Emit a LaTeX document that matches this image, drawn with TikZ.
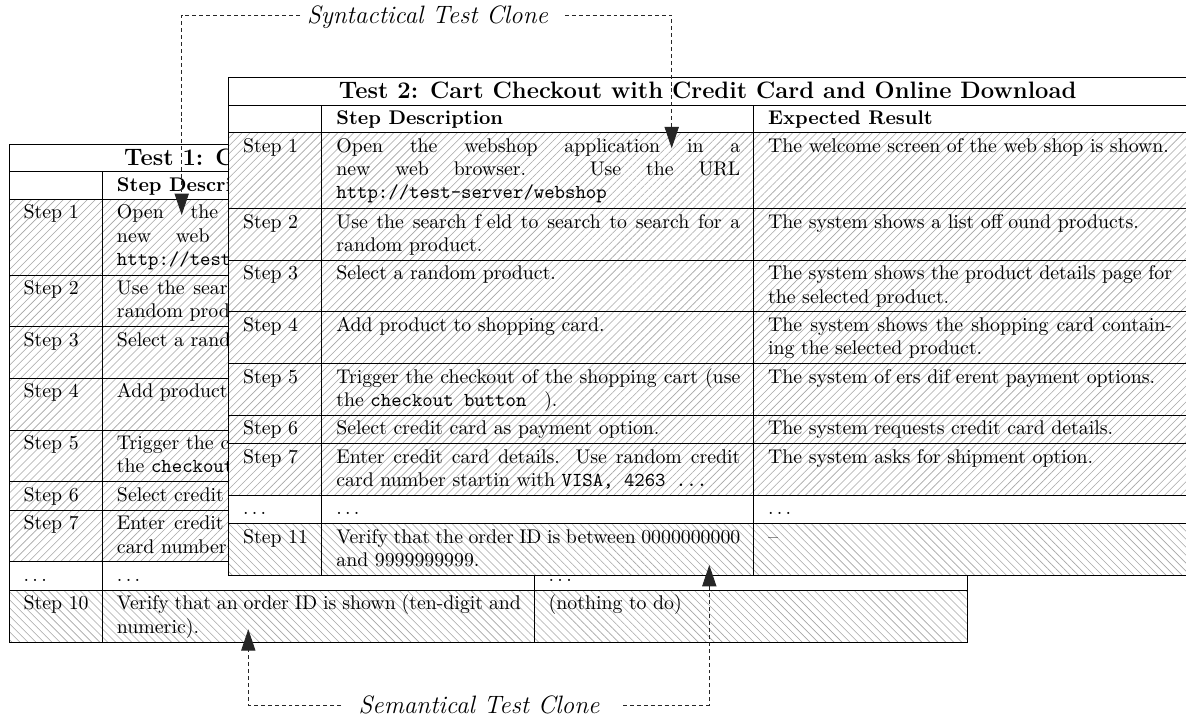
\documentclass[tikz,border=0pt]{standalone}
\usetikzlibrary{patterns.meta,arrows.meta}

\newcommand\cellfont{\fontsize{10}{11.77}\selectfont}
\newcommand\gapkern{\kern3pt}
\newcommand\hid[1]{\phantom{#1}}
\newcommand\sentencegap{\spacefactor3000{}}

% First column and ellipsis row of a test table
\newcommand\steplabels[1]{%
  \node[steplabel] (#1s1a) at (14,74.5) {Step 1};
  \node[steplabel] (#1s2a) at (14,150.3) {Step 2};
  \node[steplabel] (#1s3a) at (14,202) {Step 3};
  \node[steplabel] (#1s4a) at (14,253.7) {Step 4};
  \node[steplabel] (#1s5a) at (14,305.4) {Step 5};
  \node[steplabel] (#1s6a) at (14,357.1) {Step 6};
  \node[steplabel] (#1s7a) at (14,385.5) {Step 7};
  \node[steplabel] (#1dta) at (14,437.2) {$\ldots$};
  \node[steplabel] (#1dtb) at (107.3,437.2) {$\ldots$};
  \node[steplabel] (#1dtc) at (539,437.2) {$\ldots$};
}

% Background, hatching and rules of a test table
\newcommand\tableframe{%
  \fill[white] (0,0) rectangle (958,497.8);
  \path[hatchup] (0,55) rectangle (958,417.7);
  \path[hatchdown] (0,446.1) rectangle (958,497.8);
  \foreach \y in {27.5,55,130.8,182.5,234.2,285.9,337.6,366,417.7,446.1}
    \draw[tablerule] (0,\y) -- (958,\y);
  \foreach \x in {93,525}
    \draw[tablerule] (\x,27.5) -- (\x,497.8);
  \draw[tablerule] (0,0) rectangle (958,497.8);
}

\begin{document}
\begin{tikzpicture}[
  x=0.505pt, y=-0.505pt,
  tablerule/.style={line width=0.5pt, draw=black},
  hatchup/.style={preaction={fill=white},
    pattern={Lines[angle=45,distance=2.85pt,line width=0.3pt]}, pattern color=black!35},
  hatchdown/.style={preaction={fill=white},
    pattern={Lines[angle=-45,distance=2.85pt,line width=0.3pt]}, pattern color=black!35},
  steplabel/.style={anchor=base west, inner sep=0pt, font=\cellfont},
  celltext/.style={anchor=base west, inner sep=0pt, font=\cellfont, text width=204pt, align=justify},
  titletext/.style={inner sep=0pt, font=\fontsize{12}{14}\selectfont\bfseries},
  headtext/.style={anchor=base west, inner sep=0pt, font=\cellfont\bfseries},
  clone/.style={draw=black!85, line width=0.45pt, dash pattern=on 2pt off 1.5pt,
    -{Triangle[length=10.8pt,width=7.2pt]}},
  clonelabel/.style={anchor=base, inner sep=0pt, font=\fontsize{12.7}{15}\selectfont\itshape},
]
\useasboundingbox (0,0) rectangle (1186,718);

% Test 1 (lying underneath Test 2)
\begin{scope}[shift={(9.3,144.2)}]
  \tableframe
  \node[titletext, anchor=base west] (t1title) at (114.5,21) {Test 1: C};
  \node[headtext] (t1hd) at (107.3,47) {Step Descri};
  \steplabels{t1}
  \node[celltext] (t1s1b) at (107.3,74.5) {Open the \hid{webshop} \hid{application} \hid{in} \hid{a}\linebreak
    new web \hid{browser.}\sentencegap{} \hid{Use} \hid{the} \hid{URL}\linebreak
    \mbox{\texttt{http://test}}};
  \node[celltext] (t1s2b) at (107.3,150.3) {Use the sear\hid{ch} \hid{f\gapkern eld} \hid{to} \hid{search} \hid{to} \hid{search} \hid{for} \hid{a}\linebreak
    random prod};
  \node[celltext] (t1s3b) at (107.3,202) {Select a rand};
  \node[celltext] (t1s4b) at (107.3,253.7) {Add product};
  \node[celltext] (t1s5b) at (107.3,305.4) {Trigger the c\hid{heckout} \hid{of} \hid{the} \hid{shopping} \hid{cart} \hid{(use}\linebreak
    the \texttt{checkout}};
  \node[celltext] (t1s6b) at (107.3,357.1) {Select credit};
  \node[celltext] (t1s7b) at (107.3,385.5) {Enter credit \hid{card} \hid{details.}\sentencegap{} \hid{Use} \hid{random} \hid{credit}\linebreak
    card number};
  \node[steplabel] (t1s10a) at (14,465.6) {Step 10};
  \node[celltext] (t1s10b) at (107.3,465.6) {Verify that an order ID is shown (ten-digit and\linebreak numeric).};
  \node[steplabel] (t1s10c) at (539,465.6) {(nothing to do)};
\end{scope}

% Test 2 (on top)
\begin{scope}[shift={(228.7,77.7)}]
  \tableframe
  \node[titletext, anchor=base] (t2title) at (479,21) {Test 2: Cart Checkout with Credit Card and Online Download};
  \node[headtext] (t2hd) at (107.3,47) {Step Description};
  \node[headtext] (t2hr) at (539,47) {Expected Result};
  \steplabels{t2}
  \node[celltext] (t2s1b) at (107.3,74.5) {Open the webshop application in a\linebreak
    new web browser. Use the URL\linebreak \mbox{\texttt{http://test-server/webshop}}};
  \node[celltext] (t2s2b) at (107.3,150.3) {Use the search f\gapkern eld to search to search for a\linebreak random product.};
  \node[celltext] (t2s3b) at (107.3,202) {Select a random product.};
  \node[celltext] (t2s4b) at (107.3,253.7) {Add product to shopping card.};
  \node[celltext] (t2s5b) at (107.3,305.4) {Trigger the checkout of the shopping cart (use\linebreak
    the \texttt{checkout button}\hspace{9pt}).};
  \node[celltext] (t2s6b) at (107.3,357.1) {Select credit card as payment option.};
  \node[celltext] (t2s7b) at (107.3,385.5) {Enter credit card details. Use random credit\linebreak
    card number startin with \texttt{VISA, 4263 ...}};
  \node[celltext] (t2s1c) at (539,74.5) {The welcome screen of the web shop is shown.};
  \node[celltext] (t2s2c) at (539,150.3) {The system shows a list off\gapkern ound products.};
  \node[celltext] (t2s3c) at (539,202) {The system shows the product details page for\linebreak the selected product.};
  \node[celltext] (t2s4c) at (539,253.7) {The system shows the shopping card contain-\linebreak ing the selected product.};
  \node[celltext] (t2s5c) at (539,305.4) {The system of\gapkern ers dif\gapkern erent payment options.};
  \node[celltext] (t2s6c) at (539,357.1) {The system requests credit card details.};
  \node[celltext] (t2s7c) at (539,385.5) {The system asks for shipment option.};
  \node[steplabel] (t2s11a) at (14,465.6) {Step 11};
  \node[celltext] (t2s11b) at (107.3,465.6) {Verify that the order ID is between 0000000000\linebreak and 9999999999.};
  \node[steplabel] (t2s11c) at (539,465.6) {\textendash};
\end{scope}

% Clone relations
\node[clonelabel] (syn) at (427.5,23) {Syntactical Test Clone};
\node[clonelabel] (sem) at (479,713) {Semantical Test Clone};
\coordinate (synL) at (300,15);
\coordinate (synR) at (565,15);
\coordinate (semL) at (341,705);
\coordinate (semR) at (623,705);
\coordinate (tipA) at (181.7,215);
\coordinate (tipB) at (671.7,148.3);
\coordinate (tipC) at (248.3,629.3);
\coordinate (tipD) at (709.3,565);
\draw[clone] (synL) -| (tipA);
\draw[clone] (synR) -| (tipB);
\draw[clone] (semL) -| (tipC);
\draw[clone] (semR) -| (tipD);
\end{tikzpicture}
\end{document}
